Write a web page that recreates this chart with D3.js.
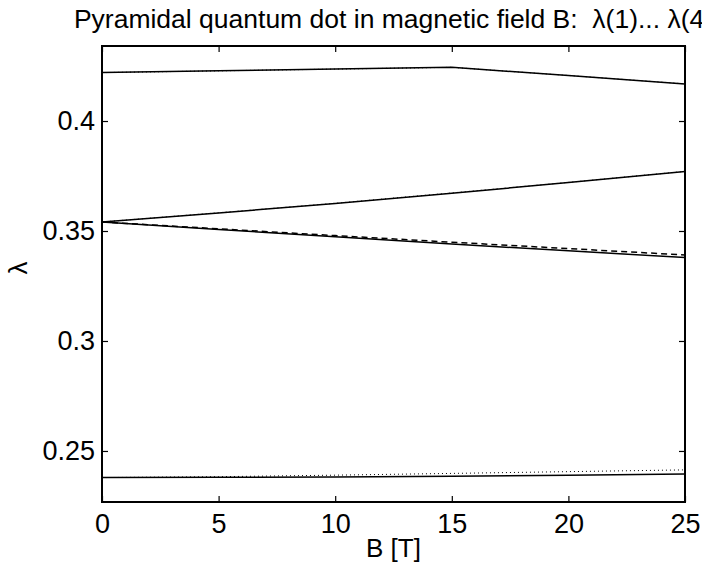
<!DOCTYPE html>
<html>
<head>
<meta charset="utf-8">
<script src="https://cdn.jsdelivr.net/npm/d3@7/dist/d3.min.js"></script>
<style>
  body { margin: 0; background: #fff; overflow: hidden; }
  svg { display: block; }
  text { font-family: "Liberation Sans", Arial, Helvetica, sans-serif; fill: #000; }
</style>
</head>
<body>
<svg id="mainsvg" width="702" height="567"></svg>
<script>
// magnetic field values (T)
const fieldB = [0, 5, 10, 15, 20, 25];
// solid curves: lambda(1)..lambda(4)
const lam1 = [0.4220, 0.4228, 0.4236, 0.4244, 0.4207, 0.4168];
const lam2 = [0.3541, 0.3582, 0.3625, 0.3672, 0.3720, 0.3770];
const lam3 = [0.3541, 0.3507, 0.3474, 0.3441, 0.3410, 0.3379];
const lam4 = [0.2379, 0.2380, 0.2382, 0.2385, 0.2390, 0.2395];
// overlaid comparison curves (dotted / dashed)
const cmp1 = [0.4220, 0.4228, 0.4236, 0.4244, 0.4207, 0.4169];
const cmp2 = [0.3541, 0.3583, 0.3626, 0.3673, 0.3721, 0.3771];
const cmp3 = [0.3541, 0.3510, 0.3479, 0.3449, 0.3420, 0.3391];
const cmp4 = [0.2379, 0.2383, 0.2390, 0.2398, 0.2406, 0.2414];
const xTicks = [0, 5, 10, 15, 20, 25];
const yTicks = [0.25, 0.3, 0.35, 0.4];
const titleText = 'Pyramidal quantum dot in magnetic field B:  \u03bb(1)... \u03bb(4)';

const svg = d3.select('#mainsvg');
const margin = { top: 46, right: 17, bottom: 65, left: 102 };
const width = +svg.attr('width');
const height = +svg.attr('height');
const innerWidth = width - margin.left - margin.right;
const innerHeight = height - margin.top - margin.bottom;
const g = svg.append('g').attr('transform', `translate(${margin.left}, ${margin.top})`);

const xScale = d3.scaleLinear().domain([0, 25]).range([0, innerWidth]);
const yScale = d3.scaleLinear().domain([0.2268, 0.4341]).range([innerHeight, 0]);

const line = d3.line()
    .x((d, i) => xScale(fieldB[i]))
    .y(d => yScale(d));

// solid lines
[lam1, lam2, lam3, lam4].forEach(s => {
    g.append('path').datum(s)
        .attr('fill', 'none')
        .attr('stroke', '#000')
        .attr('stroke-width', 1.5)
        .attr('d', line);
});
// comparison lines
const styles = ['1,3', '1,3', '6,4', '1,3'];
[cmp1, cmp2, cmp3, cmp4].forEach((s, k) => {
    g.append('path').datum(s)
        .attr('fill', 'none')
        .attr('stroke', '#000')
        .attr('stroke-width', k === 2 ? 1.5 : 1)
        .attr('stroke-dasharray', styles[k])
        .attr('d', line);
});

// axes (ticks inside, box)
const tickLen = 6;
const fmt = d => d3.format('')(+d.toFixed(2));
const xAxis = d3.axisBottom(xScale).tickValues(xTicks).tickSize(-tickLen).tickPadding(12).tickFormat(fmt);
const yAxis = d3.axisLeft(yScale).tickValues(yTicks).tickSize(-tickLen).tickPadding(7).tickFormat(fmt);
const xAxisTop = d3.axisTop(xScale).tickValues(xTicks).tickSize(-tickLen).tickFormat('');
const yAxisRight = d3.axisRight(yScale).tickValues(yTicks).tickSize(-tickLen).tickFormat('');

const axes = [
    g.append('g').attr('transform', `translate(0, ${innerHeight})`).call(xAxis),
    g.append('g').call(yAxis),
    g.append('g').call(xAxisTop),
    g.append('g').attr('transform', `translate(${innerWidth}, 0)`).call(yAxisRight)
];
axes.forEach(a => {
    a.select('.domain').remove();
    a.selectAll('.tick line').attr('stroke', '#000').attr('stroke-width', 1.2);
    a.selectAll('.tick text').attr('font-size', '27px').attr('font-family', '"Liberation Sans", Arial, sans-serif');
});

g.append('rect')
    .attr('width', innerWidth).attr('height', innerHeight)
    .attr('fill', 'none').attr('stroke', '#000').attr('stroke-width', 2);

// labels
g.append('text')
    .attr('x', innerWidth / 2).attr('y', innerHeight + 55)
    .attr('text-anchor', 'middle').attr('font-size', '26px')
    .text('B [T]');
g.append('text')
    .attr('transform', 'rotate(-90)')
    .attr('x', -innerHeight / 2 + 6).attr('y', -75)
    .attr('text-anchor', 'middle').attr('font-size', '26px')
    .text('\u03bb');
svg.append('text')
    .attr('x', margin.left + innerWidth / 2).attr('y', 28)
    .attr('text-anchor', 'middle').attr('font-size', '26.5px')
    .style('white-space', 'pre')
    .text(titleText);
</script>
</body>
</html>
